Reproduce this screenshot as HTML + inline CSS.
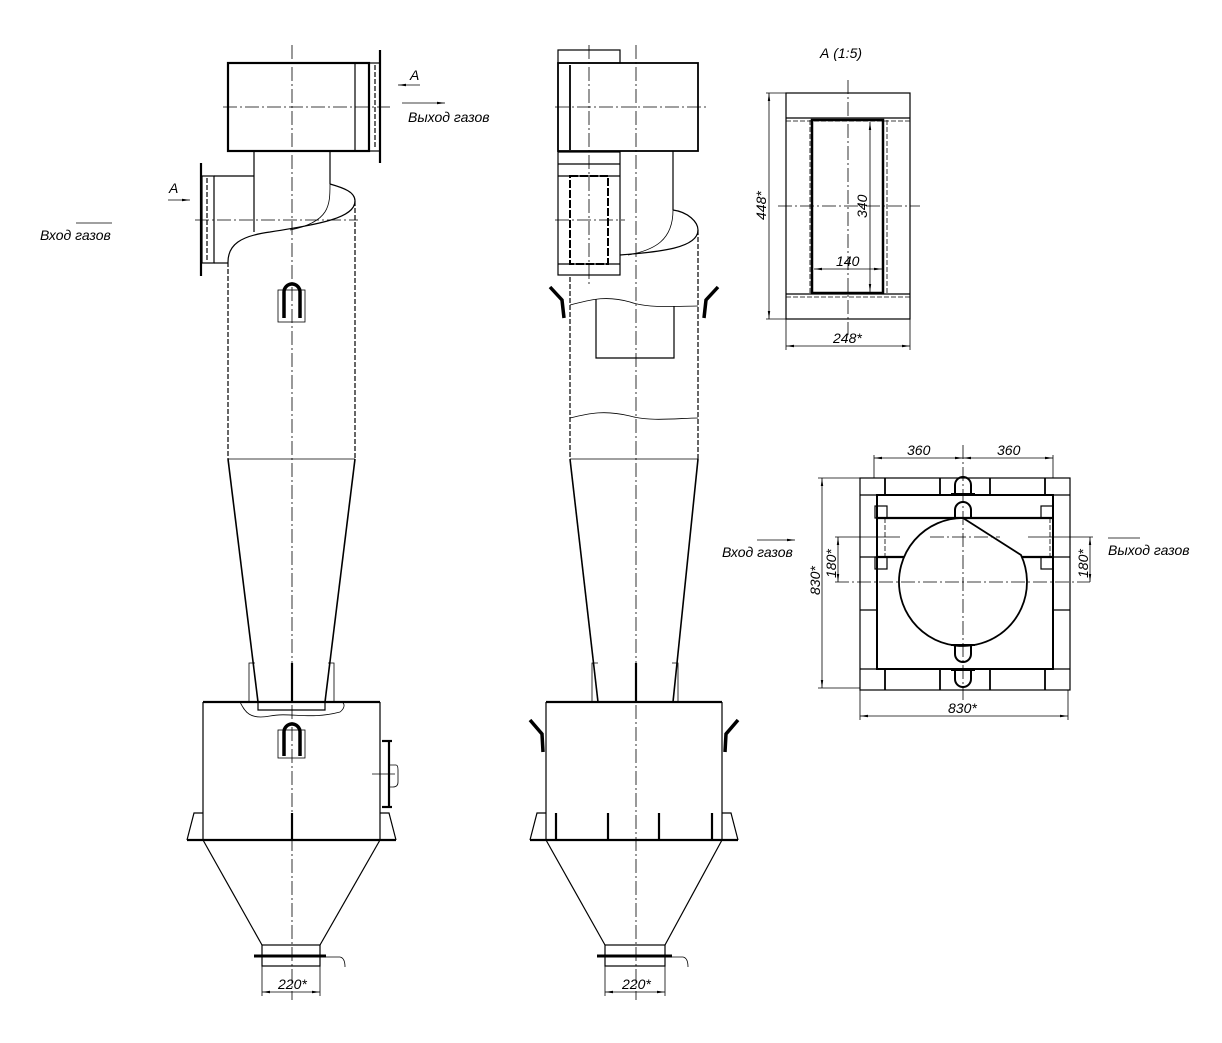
<!DOCTYPE html>
<html><head><meta charset="utf-8"><style>
html,body{margin:0;padding:0;background:#fff}
svg{display:block}
text{font-family:"Liberation Sans","DejaVu Sans",sans-serif;font-style:italic;font-size:14px;fill:#000}
.t{stroke:#000;stroke-width:2.2;fill:none}
.m{stroke:#000;stroke-width:1.2;fill:none}
.n{stroke:#000;stroke-width:0.8;fill:none}
.c{stroke:#000;stroke-width:0.8;fill:none;stroke-dasharray:14 3 2 3}
.d{stroke:#000;stroke-width:1.2;fill:none;stroke-dasharray:5 2}
</style></head><body>
<svg width="1222" height="1043" viewBox="0 0 1222 1043" xmlns="http://www.w3.org/2000/svg">
<defs><marker id="a" markerWidth="10" markerHeight="6" refX="10" refY="3" orient="auto-start-reverse"><path d="M0,1.5 L10,3 L0,4.5z" fill="#000"/></marker></defs>

<!-- ===== LEFT VIEW ===== -->
<line class="c" x1="292" y1="45" x2="292" y2="1000"/>
<rect class="t" x="228" y="63" width="141" height="88"/>
<line class="m" x1="355" y1="63" x2="355" y2="151"/>
<rect class="m" x="369" y="63" width="11" height="88"/>
<line class="t" x1="380" y1="50" x2="380" y2="163"/>
<line class="d" x1="375" y1="65" x2="375" y2="149"/>
<line class="c" x1="223" y1="107" x2="390" y2="107"/>
<text x="408" y="122">Выход газов</text>
<line class="n" x1="402" y1="103" x2="445" y2="103" marker-end="url(#a)"/>
<text x="410" y="80">А</text>
<line class="n" x1="420" y1="85" x2="398" y2="85" marker-end="url(#a)"/>
<!-- neck -->
<line class="m" x1="254" y1="151" x2="254" y2="232"/>
<line class="m" x1="330" y1="151" x2="330" y2="184"/>
<!-- inlet -->
<line class="m" x1="214" y1="176" x2="254" y2="176"/>
<line class="m" x1="214" y1="263" x2="228" y2="263"/>
<rect class="m" x="202" y="176" width="12" height="87"/>
<line class="t" x1="201" y1="163" x2="201" y2="276"/>
<line class="d" x1="207" y1="178" x2="207" y2="261"/>
<line class="c" x1="195" y1="220" x2="358" y2="220"/>
<text x="169" y="193">А</text>
<line class="n" x1="168" y1="200" x2="190" y2="200" marker-end="url(#a)"/>
<text x="40" y="240">Вход газов</text>
<line class="n" x1="76" y1="223" x2="112" y2="223"/>
<!-- spiral -->
<path class="m" d="M228,262 C228,245 240,236 270,232 C320,224 355,218 355,201 C355,192 344,188 330,184"/>
<path class="n" d="M330,184 C330,205 330,222 290,230"/>
<!-- cylinder -->
<line class="d" x1="228" y1="262" x2="228" y2="459"/>
<line class="d" x1="355" y1="201" x2="355" y2="459"/>
<line class="n" x1="228" y1="459" x2="355" y2="459"/>
<!-- hook -->
<rect class="n" x="278" y="290" width="27" height="32"/>
<path d="M284,318 L284,292 A8,8 0 0 1 300,292 L300,318" stroke="#000" stroke-width="3.5" fill="none"/>
<!-- cone -->
<line class="t" x1="228" y1="459" x2="258" y2="702" style="stroke-width:1.6"/>
<line class="t" x1="355" y1="459" x2="325" y2="702" style="stroke-width:1.6"/>
<path class="n" d="M249,702 V663 H255"/><path class="n" d="M334,702 V663 H328"/>
<line class="t" x1="292" y1="663" x2="292" y2="702"/>
<!-- bin -->
<line class="t" x1="203" y1="702" x2="380" y2="702"/>
<line class="m" x1="203" y1="702" x2="203" y2="840"/>
<line class="m" x1="380" y1="702" x2="380" y2="840"/>
<path class="n" d="M240,702 C245,712 250,720 270,716 C290,712 310,720 340,712 C345,708 345,704 342,702"/>
<path class="m" d="M258,702 V710 H325 V702"/>
<rect class="n" x="278" y="730" width="27" height="28"/>
<path d="M284,756 L284,732 A8,8 0 0 1 300,732 L300,756" stroke="#000" stroke-width="3.5" fill="none"/>
<line class="t" x1="389" y1="740" x2="389" y2="808"/>
<path class="n" d="M390,765 H396 Q398,765 398,770 V782 Q398,787 393,787 H390"/>
<line class="n" x1="372" y1="774" x2="395" y2="774"/>
<line class="t" x1="382" y1="741" x2="392" y2="741"/><line class="t" x1="382" y1="807" x2="392" y2="807"/>
<line class="t" x1="292" y1="813" x2="292" y2="840"/>
<path class="m" d="M203,813 H194 L187,840"/><path class="m" d="M380,813 H389 L396,840"/>
<line class="t" x1="187" y1="840" x2="396" y2="840"/>
<line class="m" x1="203" y1="840" x2="262" y2="945"/>
<line class="m" x1="380" y1="840" x2="320" y2="945"/>
<rect class="m" x="262" y="945" width="58" height="21"/>
<line class="t" x1="254" y1="956" x2="326" y2="956" style="stroke-width:3"/>
<path class="n" d="M320,957 H340 Q345,958 345,967"/>
<line class="n" x1="262" y1="966" x2="262" y2="996"/><line class="n" x1="320" y1="966" x2="320" y2="996"/>
<line class="n" x1="262" y1="992" x2="320" y2="992" marker-start="url(#a)" marker-end="url(#a)"/>
<text x="278" y="989">220*</text>

<!-- ===== MIDDLE VIEW ===== -->
<line class="c" x1="636" y1="45" x2="636" y2="1000"/>
<line class="c" x1="589" y1="45" x2="589" y2="285"/>
<rect class="m" x="558" y="50" width="62" height="13"/>
<rect class="t" x="558" y="63" width="140" height="88" style="stroke-width:1.8"/>
<line class="t" x1="570" y1="65" x2="570" y2="150" style="stroke-width:1.8"/>
<line class="c" x1="555" y1="107" x2="706" y2="107"/>
<rect class="m" x="558" y="152" width="62" height="123"/>
<line class="m" x1="558" y1="164" x2="620" y2="164"/>
<line class="m" x1="558" y1="176" x2="620" y2="176"/>
<line class="m" x1="558" y1="264" x2="620" y2="264"/>
<rect x="570" y="176" width="38" height="88" stroke="#000" stroke-width="2" fill="none" stroke-dasharray="8 2"/>
<line class="c" x1="555" y1="220" x2="625" y2="220"/>
<line class="m" x1="673" y1="151" x2="673" y2="210"/>
<path class="m" d="M620,255 C660,252 698,248 698,230 C698,222 688,212 673,210"/>
<path class="n" d="M673,210 C673,240 655,250 628,255"/>
<line class="d" x1="570" y1="277" x2="570" y2="459"/>
<line class="d" x1="698" y1="230" x2="698" y2="459"/>
<path class="n" d="M570,305 C590,300 605,295 630,302 C650,309 680,306 698,306"/>
<path class="m" d="M596,299 V358 H674 V306"/>
<path class="n" d="M570,418 C590,413 605,410 630,416 C650,422 680,418 698,418"/>
<line class="n" x1="570" y1="459" x2="698" y2="459"/>
<path d="M550,287 L562,300 L564,318" stroke="#000" stroke-width="3.5" fill="none"/>
<path d="M718,287 L706,300 L704,318" stroke="#000" stroke-width="3.5" fill="none"/>
<line class="t" x1="570" y1="459" x2="598" y2="702" style="stroke-width:1.6"/>
<line class="t" x1="698" y1="459" x2="673" y2="702" style="stroke-width:1.6"/>
<path class="n" d="M592,702 V663 H598"/><path class="n" d="M678,702 V663 H672"/>
<line class="t" x1="636" y1="663" x2="636" y2="702"/>
<line class="t" x1="546" y1="702" x2="722" y2="702"/>
<line class="m" x1="546" y1="702" x2="546" y2="840"/>
<line class="m" x1="722" y1="702" x2="722" y2="840"/>
<path d="M530,720 L542,734 L543,752" stroke="#000" stroke-width="3.5" fill="none"/>
<path d="M738,720 L726,734 L725,752" stroke="#000" stroke-width="3.5" fill="none"/>
<line class="t" x1="556" y1="813" x2="556" y2="840"/><line class="t" x1="608" y1="813" x2="608" y2="840"/>
<line class="t" x1="659" y1="813" x2="659" y2="840"/><line class="t" x1="712" y1="813" x2="712" y2="840"/>
<path class="m" d="M546,813 H537 L530,840"/><path class="m" d="M722,813 H731 L738,840"/>
<line class="t" x1="530" y1="840" x2="738" y2="840"/>
<line class="m" x1="546" y1="840" x2="605" y2="945"/>
<line class="m" x1="722" y1="840" x2="665" y2="945"/>
<rect class="m" x="605" y="945" width="60" height="21"/>
<line class="t" x1="597" y1="956" x2="672" y2="956" style="stroke-width:3"/>
<path class="n" d="M665,957 H683 Q688,958 688,967"/>
<line class="n" x1="605" y1="966" x2="605" y2="996"/><line class="n" x1="665" y1="966" x2="665" y2="996"/>
<line class="n" x1="605" y1="992" x2="665" y2="992" marker-start="url(#a)" marker-end="url(#a)"/>
<text x="622" y="989">220*</text>

<!-- ===== VIEW A ===== -->
<text x="820" y="58">А (1:5)</text>
<rect class="m" x="786" y="93" width="124" height="226"/>
<line class="m" x1="786" y1="118" x2="910" y2="118"/>
<line class="d" x1="786" y1="121" x2="910" y2="121" style="stroke-width:0.8"/>
<line class="m" x1="786" y1="294" x2="910" y2="294"/>
<line class="d" x1="786" y1="297" x2="910" y2="297" style="stroke-width:0.8"/>
<line class="d" x1="810" y1="120" x2="810" y2="294" style="stroke-width:0.8"/>
<line class="d" x1="887" y1="120" x2="887" y2="294" style="stroke-width:0.8"/>
<rect x="812" y="120" width="71" height="173" stroke="#000" stroke-width="2.5" fill="none"/>
<line class="c" x1="848" y1="80" x2="848" y2="335"/>
<line class="c" x1="778" y1="206" x2="920" y2="206"/>
<line class="n" x1="766" y1="93" x2="786" y2="93"/><line class="n" x1="766" y1="319" x2="786" y2="319"/>
<line class="n" x1="769" y1="93" x2="769" y2="319" marker-start="url(#a)" marker-end="url(#a)"/>
<text transform="translate(766,220) rotate(-90)">448*</text>
<line class="n" x1="870" y1="122" x2="870" y2="292" marker-start="url(#a)" marker-end="url(#a)"/>
<text transform="translate(867,218) rotate(-90)">340</text>
<line class="n" x1="814" y1="269" x2="882" y2="269" marker-start="url(#a)" marker-end="url(#a)"/>
<text x="836" y="266">140</text>
<line class="n" x1="786" y1="319" x2="786" y2="350"/><line class="n" x1="910" y1="319" x2="910" y2="350"/>
<line class="n" x1="786" y1="346" x2="910" y2="346" marker-start="url(#a)" marker-end="url(#a)"/>
<text x="833" y="343">248*</text>

<!-- ===== PLAN VIEW ===== -->
<rect class="m" x="860" y="478" width="210" height="212"/>
<rect x="877" y="495" width="176" height="174" stroke="#000" stroke-width="2" fill="none"/>
<g class="m">
<line x1="860" y1="495" x2="877" y2="495"/><line x1="1053" y1="495" x2="1070" y2="495"/>
<line x1="860" y1="669" x2="877" y2="669"/><line x1="1053" y1="669" x2="1070" y2="669"/>
<line x1="860" y1="610" x2="877" y2="610"/><line x1="1053" y1="610" x2="1070" y2="610"/>
<line x1="860" y1="557" x2="877" y2="557"/><line x1="1053" y1="557" x2="1070" y2="557"/>
</g>
<g class="t" style="stroke-width:1.8">
<line x1="885" y1="478" x2="885" y2="495"/><line x1="940" y1="478" x2="940" y2="495"/><line x1="990" y1="478" x2="990" y2="495"/><line x1="1045" y1="478" x2="1045" y2="495"/>
<line x1="885" y1="669" x2="885" y2="690"/><line x1="940" y1="669" x2="940" y2="690"/><line x1="990" y1="669" x2="990" y2="690"/><line x1="1045" y1="669" x2="1045" y2="690"/>
</g>
<rect class="m" x="875" y="506" width="12" height="12"/><rect class="m" x="875" y="557" width="12" height="12"/>
<rect class="m" x="1041" y="506" width="12" height="12"/><rect class="m" x="1041" y="557" width="12" height="12"/>
<line class="t" x1="877" y1="518" x2="1053" y2="518"/>
<line class="t" x1="877" y1="557" x2="906" y2="557"/>
<line class="t" x1="1020" y1="557" x2="1053" y2="557"/>
<line class="d" x1="885" y1="518" x2="885" y2="557" style="stroke-width:0.8"/>
<line class="d" x1="1050" y1="518" x2="1050" y2="557" style="stroke-width:0.8"/>
<path d="M963,518 L1021,555 A64,64 0 1 1 963,518 Z" stroke="#000" stroke-width="1.8" fill="#fff"/>
<line class="c" x1="963" y1="445" x2="963" y2="700"/>
<line class="c" x1="835" y1="582" x2="1090" y2="582"/>
<line class="c" x1="930" y1="537" x2="1000" y2="537"/>
<g stroke="#000" stroke-width="2" fill="none">
<path d="M955,494 V485 A8,8 0 0 1 971,485 V494"/><line x1="951" y1="494" x2="975" y2="494"/>
<path d="M955,518 V510 A8,8 0 0 1 971,510 V518"/>
<path d="M955,645 V654 A8,8 0 0 0 971,654 V645"/><line x1="951" y1="645" x2="975" y2="645"/>
<path d="M955,669 V679 A8,8 0 0 0 971,679 V669"/><line x1="951" y1="670" x2="975" y2="670"/>
</g>
<line class="n" x1="874" y1="455" x2="874" y2="478"/><line class="n" x1="1053" y1="455" x2="1053" y2="478"/>
<line class="n" x1="874" y1="458" x2="963" y2="458" marker-start="url(#a)" marker-end="url(#a)"/>
<line class="n" x1="963" y1="458" x2="1053" y2="458" marker-start="url(#a)" marker-end="url(#a)"/>
<text x="907" y="455">360</text><text x="997" y="455">360</text>
<line class="n" x1="818" y1="478" x2="860" y2="478"/><line class="n" x1="818" y1="688" x2="860" y2="688"/>
<line class="n" x1="822" y1="478" x2="822" y2="688" marker-start="url(#a)" marker-end="url(#a)"/>
<text transform="translate(820,595) rotate(-90)">830*</text>
<line class="n" x1="835" y1="537" x2="900" y2="537"/>
<line class="n" x1="838" y1="537" x2="838" y2="582" marker-start="url(#a)" marker-end="url(#a)"/>
<text transform="translate(836,578) rotate(-90)">180*</text>
<line class="n" x1="1028" y1="537" x2="1093" y2="537"/>
<line class="n" x1="1090" y1="537" x2="1090" y2="582" marker-start="url(#a)" marker-end="url(#a)"/>
<text transform="translate(1088,578) rotate(-90)">180*</text>
<line class="n" x1="860" y1="690" x2="860" y2="720"/><line class="n" x1="1068" y1="690" x2="1068" y2="720"/>
<line class="n" x1="860" y1="716" x2="1068" y2="716" marker-start="url(#a)" marker-end="url(#a)"/>
<text x="948" y="713">830*</text>
<text x="722" y="557">Вход газов</text>
<line class="n" x1="757" y1="540" x2="795" y2="540" marker-end="url(#a)"/>
<text x="1108" y="555">Выход газов</text>
<line class="n" x1="1108" y1="538" x2="1140" y2="538"/>
</svg>
</body></html>
